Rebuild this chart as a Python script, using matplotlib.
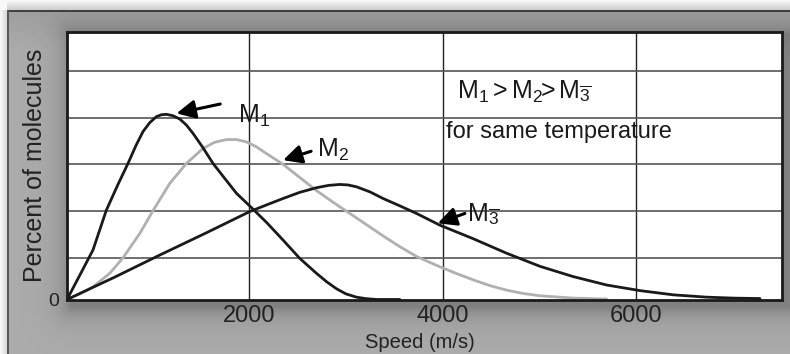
import numpy as np
import matplotlib
matplotlib.use("Agg")
import matplotlib.pyplot as plt

plt.rcParams['font.family'] = ['Liberation Sans', 'DejaVu Sans']
plt.rcParams['mathtext.fontset'] = 'custom'
plt.rcParams['mathtext.rm'] = 'Liberation Sans'
plt.rcParams['mathtext.it'] = 'Liberation Sans'

# ---- data ----
m1_speed = [115, 250, 384, 522, 640, 746, 830, 901, 970, 1040, 1090, 1143, 1210,
            1281, 1350, 1419, 1520, 1625, 1750, 1868, 2005, 2178, 2350, 2522,
            2695, 2800, 2902, 3000, 3109, 3200, 3316, 3557]
m1_pct = [0.0, 0.53, 1.06, 1.91, 2.45, 2.91, 3.30, 3.59, 3.78, 3.91, 3.95, 3.96,
          3.93, 3.86, 3.73, 3.55, 3.25, 2.91, 2.58, 2.27, 2.00, 1.65, 1.27, 0.88,
          0.56, 0.38, 0.23, 0.12, 0.05, 0.02, 0.0, 0.0]

m2_speed = [115, 250, 384, 557, 694, 867, 1005, 1177, 1350, 1522, 1640, 1764,
            1870, 1971, 2070, 2178, 2350, 2522, 2695, 2867, 3040, 3213, 3384,
            3557, 3730, 3971, 4150, 4316, 4500, 4661, 4830, 5006, 5350, 5696]
m2_pct = [0.0, 0.12, 0.27, 0.56, 0.89, 1.41, 1.90, 2.48, 2.91, 3.23, 3.36, 3.42,
          3.42, 3.37, 3.27, 3.12, 2.89, 2.61, 2.33, 2.08, 1.84, 1.60, 1.36,
          1.13, 0.92, 0.70, 0.55, 0.42, 0.29, 0.20, 0.13, 0.08, 0.03, 0.01]

m3_speed = [115, 600, 1074, 1550, 2005, 2200, 2350, 2520, 2695, 2820, 2937,
            3020, 3109, 3250, 3384, 3560, 3730, 3971, 4316, 4661, 5006, 5350,
            5696, 6041, 6385, 6730, 7000, 7282]
m3_pct = [0.0, 0.47, 0.95, 1.42, 1.88, 2.04, 2.16, 2.29, 2.39, 2.44, 2.46,
          2.45, 2.41, 2.30, 2.16, 2.00, 1.84, 1.59, 1.30, 0.99, 0.71, 0.49,
          0.31, 0.19, 0.10, 0.05, 0.03, 0.02]

x_ticks = [2000, 4000, 6000]
x_tick_labels = ["2000", "4000", "6000"]
grid_y = [0.89, 1.89, 2.89, 3.89, 4.89]

W, H = 790, 354
fig = plt.figure(figsize=(W / 100, H / 100), dpi=100)

# ---- background panel with shadows ----
yy, xx = np.mgrid[0:H, 0:W].astype(float)
top_sh = np.clip(yy / 10.0, 0, 1)
left_sh = np.clip(xx / 7.0, 0, 1)
img = 0.97 - 0.18 * top_sh * (xx >= 7) - 0.14 * left_sh * (yy >= 10)
img = np.clip(img, 0.75, 0.97)
panel = (xx >= 7) & (yy >= 10)
img[panel] = 0.67
L, R, T, B = 67 + 4, 782 + 6, 32 + 2, 300 + 6
dx = np.maximum(np.maximum(L - xx, xx - R), 0)
dy = np.maximum(np.maximum(T - yy, yy - B), 0)
d = np.sqrt(dx ** 2 + dy ** 2)
shadow = 0.17 * np.exp(-d / 12.0)
img[panel] = img[panel] - shadow[panel]
grad = 0.05 * np.clip(1 - (yy - 10) / 40.0, 0, 1)
img[panel] = img[panel] - grad[panel]
img[(yy >= 10) & (yy < 11.5) & (xx >= 7)] = 0.25
img[(xx >= 7) & (xx < 8.5) & (yy >= 10)] = 0.35

bg = fig.add_axes([0, 0, 1, 1], zorder=-10)
bg.imshow(img, cmap='gray', vmin=0, vmax=1, extent=[0, W, H, 0], aspect='auto',
          interpolation='bilinear')
bg.set_axis_off()

# ---- main axes ----
ax = fig.add_axes([67 / W, (H - 299.5) / H, (782 - 67) / W, (299.5 - 32) / H])
ax.set_facecolor('white')
ax.set_xlim(115, 7510)
ax.set_ylim(0, 5.72)

for gx in x_ticks:
    ax.axvline(gx, color='#222222', lw=1.0, zorder=1)
for gy in grid_y:
    ax.axhline(gy, color='#555555', lw=1.2, zorder=1)

line_kw = dict(lw=2.0, solid_joinstyle='round', solid_capstyle='round')
ax.plot(m2_speed, m2_pct, color='#b0b0b0', zorder=2, **line_kw)
ax.plot(m1_speed, m1_pct, color='#1a1a1a', zorder=3, **line_kw)
ax.plot(m3_speed, m3_pct, color='#1a1a1a', zorder=3, **line_kw)

ax.set_xticks(x_ticks)
ax.set_xticklabels(x_tick_labels, fontsize=17, color='#222222')
ax.set_yticks([0])
ax.set_yticklabels(["0"], fontsize=14, color='#222222')
ax.tick_params(length=0, pad=4)
ax.tick_params(axis='y', pad=6)
for s in ax.spines.values():
    s.set_linewidth(2.0)
    s.set_color('#1a1a1a')

fig.text(35 / W, 1 - 165 / H, "Percent of molecules", rotation=90, fontsize=18,
         ha='center', va='center', color='#222222')
fig.text(420 / W, 1 - 342 / H, "Speed (m/s)", fontsize=14.5, ha='center',
         va='center', color='#222222')

# ---- annotations ----
arrow = dict(arrowstyle='-|>', color='black', lw=2.2, mutation_scale=28,
             shrinkA=0, shrinkB=0)
ax.annotate("", xy=(1248, 3.98), xytext=(1700, 4.18), arrowprops=arrow, zorder=5)
ax.annotate("", xy=(2350, 2.98), xytext=(2640, 3.17), arrowprops=arrow, zorder=5)
ax.annotate("", xy=(3950, 1.63), xytext=(4230, 1.84), arrowprops=arrow, zorder=5)

ax.text(1882, 3.92, r"$\mathregular{M_1}$", fontsize=18, va='center', ha='left',
        color='#1a1a1a', zorder=6)
ax.text(2698, 3.19, r"$\mathregular{M_2}$", fontsize=18, va='center', ha='left',
        color='#1a1a1a', zorder=6)
ax.text(4247, 1.83, r"$\mathregular{M_{\overline{3}}}$", fontsize=18, va='center',
        ha='left', color='#1a1a1a', zorder=6)

ax.text(4146, 4.44, r"$\mathregular{M_1 > M_2\!\!> M_{\overline{3}}}$", fontsize=18,
        va='center', ha='left', color='#1a1a1a', zorder=6)
ax.text(4040, 3.59, "for same temperature", fontsize=17, va='center', ha='left',
        color='#1a1a1a', zorder=6)

fig.savefig("out.png", dpi=100)
